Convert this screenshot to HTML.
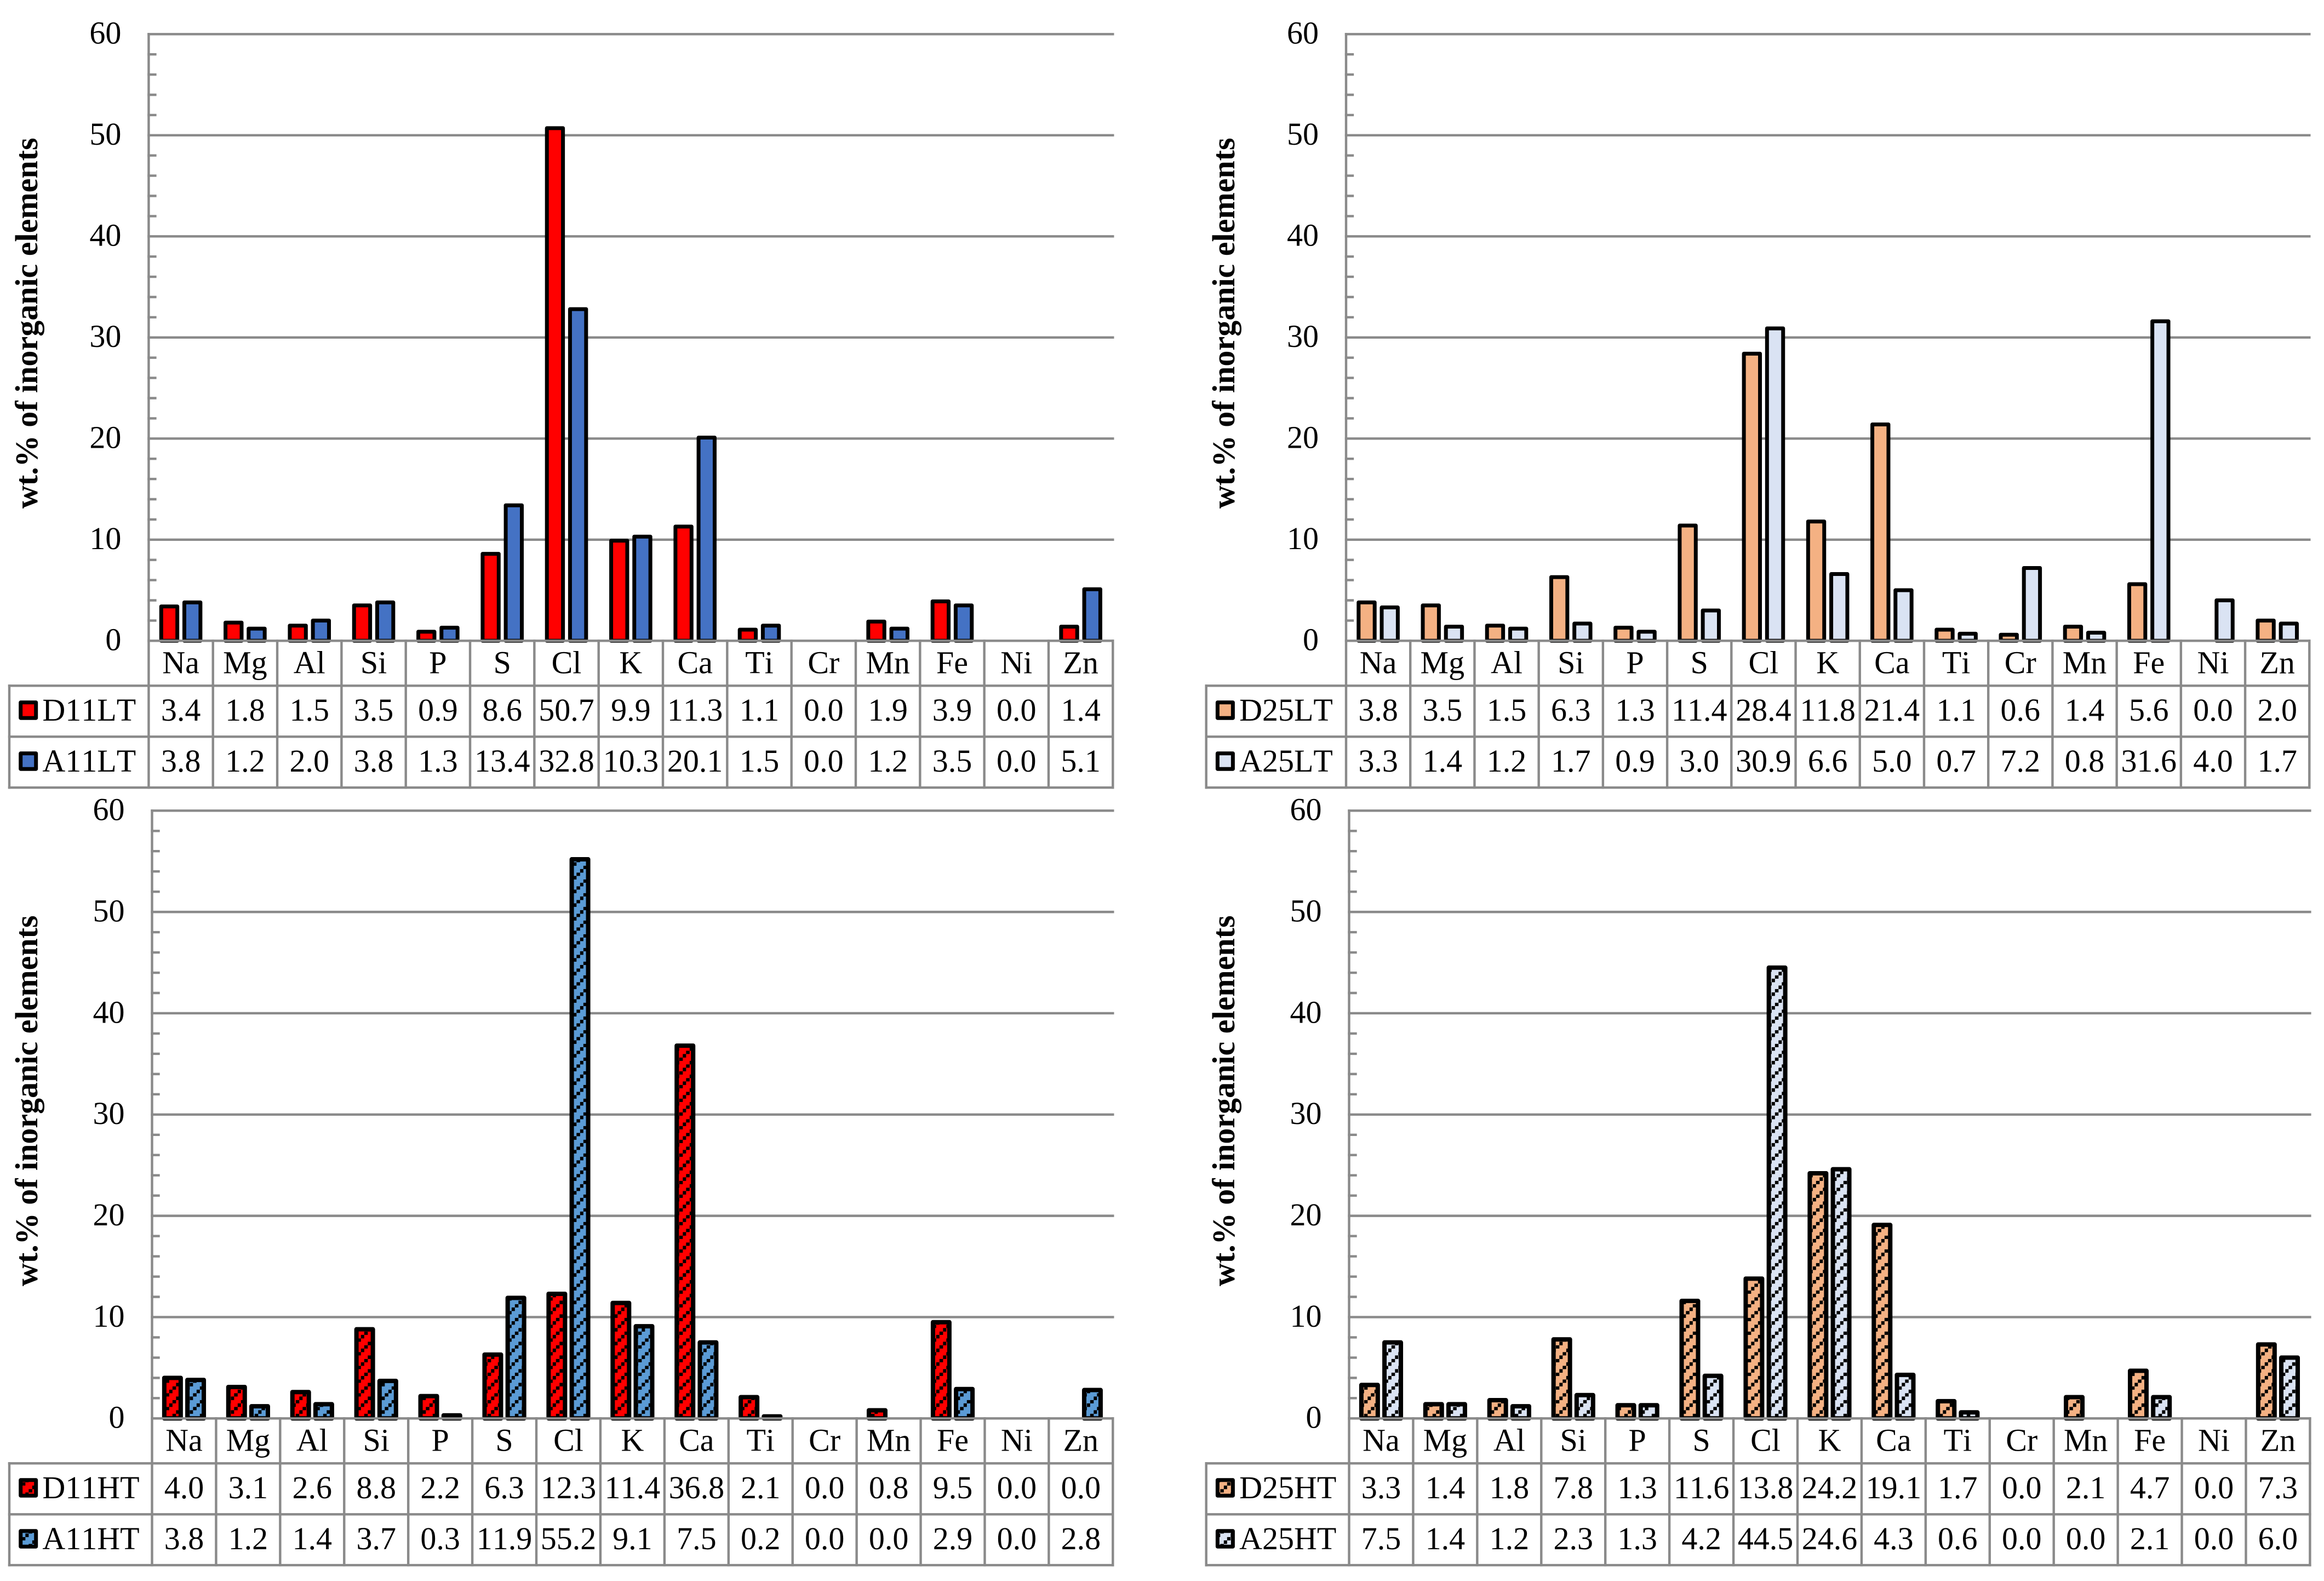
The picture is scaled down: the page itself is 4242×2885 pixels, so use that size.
<!DOCTYPE html>
<html lang="en">
<head>
<meta charset="utf-8">
<title>Inorganic elements wt.% charts</title>
<style>
  html, body { margin: 0; padding: 0; background: #fff; }
  svg { display: block; }
  text { font-family: "Liberation Serif", "Times New Roman", serif; font-size: 58px; fill: #000; font-kerning: none; }
  .title { font-weight: bold; }
  .rule { stroke: #8a8a8a; stroke-width: 4.4; stroke-linecap: square; fill: none; }
  .bar { stroke: #000; stroke-linejoin: round; }
</style>
</head>
<body>
<svg id="figure" xmlns="http://www.w3.org/2000/svg" width="4242" height="2885" viewBox="0 0 4242 2885">
  <defs>
    <pattern id="hatch-red" patternUnits="userSpaceOnUse" width="25" height="25" patternTransform="translate(2.325,-1.625)">
      <rect width="25" height="25" fill="#FF0000"/>
      <g fill="#000" shape-rendering="crispEdges"><rect x="0" y="18.75" width="6.25" height="6.25"/><rect x="6.25" y="12.5" width="6.25" height="6.25"/><rect x="12.5" y="6.25" width="6.25" height="6.25"/><rect x="18.75" y="0" width="6.25" height="6.25"/></g>
    </pattern>
    <pattern id="hatch-blue" patternUnits="userSpaceOnUse" width="25" height="25" patternTransform="translate(2.325,-1.625)">
      <rect width="25" height="25" fill="#5B9BD5"/>
      <g fill="#000" shape-rendering="crispEdges"><rect x="0" y="18.75" width="6.25" height="6.25"/><rect x="6.25" y="12.5" width="6.25" height="6.25"/><rect x="12.5" y="6.25" width="6.25" height="6.25"/><rect x="18.75" y="0" width="6.25" height="6.25"/></g>
    </pattern>
    <pattern id="hatch-orange" patternUnits="userSpaceOnUse" width="25" height="25" patternTransform="translate(2.325,-1.625)">
      <rect width="25" height="25" fill="#F4B183"/>
      <g fill="#000" shape-rendering="crispEdges"><rect x="0" y="18.75" width="6.25" height="6.25"/><rect x="6.25" y="12.5" width="6.25" height="6.25"/><rect x="12.5" y="6.25" width="6.25" height="6.25"/><rect x="18.75" y="0" width="6.25" height="6.25"/></g>
    </pattern>
    <pattern id="hatch-pale" patternUnits="userSpaceOnUse" width="25" height="25" patternTransform="translate(2.325,-1.625)">
      <rect width="25" height="25" fill="#DAE3F3"/>
      <g fill="#000" shape-rendering="crispEdges"><rect x="0" y="18.75" width="6.25" height="6.25"/><rect x="6.25" y="12.5" width="6.25" height="6.25"/><rect x="12.5" y="6.25" width="6.25" height="6.25"/><rect x="18.75" y="0" width="6.25" height="6.25"/></g>
    </pattern>
  </defs>
  <rect width="4242" height="2885" fill="#fff"/>
  <g id="panel-lt11"></g>
  <g id="panel-lt25"></g>
  <g id="panel-ht11"></g>
  <g id="panel-ht25"></g>
</svg>
<script>
const elements = ['Na','Mg','Al','Si','P','S','Cl','K','Ca','Ti','Cr','Mn','Fe','Ni','Zn'];
const yTickValues = [0,10,20,30,40,50,60];
const minorTickValues = [2,4,6,8,12,14,16,18,22,24,26,28,32,34,36,38,42,44,46,48,52,54,56,58];
const yAxisTitle = 'wt.% of inorganic elements';
const yMax = 60;

const d11lt = [3.4,1.8,1.5,3.5,0.9,8.6,50.7,9.9,11.3,1.1,0.0,1.9,3.9,0.0,1.4];
const a11lt = [3.8,1.2,2.0,3.8,1.3,13.4,32.8,10.3,20.1,1.5,0.0,1.2,3.5,0.0,5.1];
const d25lt = [3.8,3.5,1.5,6.3,1.3,11.4,28.4,11.8,21.4,1.1,0.6,1.4,5.6,0.0,2.0];
const a25lt = [3.3,1.4,1.2,1.7,0.9,3.0,30.9,6.6,5.0,0.7,7.2,0.8,31.6,4.0,1.7];
const d11ht = [4.0,3.1,2.6,8.8,2.2,6.3,12.3,11.4,36.8,2.1,0.0,0.8,9.5,0.0,0.0];
const a11ht = [3.8,1.2,1.4,3.7,0.3,11.9,55.2,9.1,7.5,0.2,0.0,0.0,2.9,0.0,2.8];
const d25ht = [3.3,1.4,1.8,7.8,1.3,11.6,13.8,24.2,19.1,1.7,0.0,2.1,4.7,0.0,7.3];
const a25ht = [7.5,1.4,1.2,2.3,1.3,4.2,44.5,24.6,4.3,0.6,0.0,0.0,2.1,0.0,6.0];

const panels = [
  { id:'panel-lt11', x0:271.4, x1:2031.3, left:17, y60:62.3, y0:1169.3, rows:[1251.3,1344.3,1437.2], titleX:68, titleY:928, hatched:false,
    series:[{label:'D11LT', values:d11lt, fill:'#FF0000'}, {label:'A11LT', values:a11lt, fill:'#4472C4'}] },
  { id:'panel-lt25', x0:2457, x1:4215.3, left:2201.7, y60:62.3, y0:1169.3, rows:[1251.3,1344.3,1437.2], titleX:2253, titleY:928, hatched:false,
    series:[{label:'D25LT', values:d25lt, fill:'#F4B183'}, {label:'A25LT', values:a25lt, fill:'#DAE3F3'}] },
  { id:'panel-ht11', x0:277.5, x1:2031.3, left:17, y60:1479.3, y0:2588.3, rows:[2670.3,2763.3,2856.1], titleX:68, titleY:2347, hatched:true,
    series:[{label:'D11HT', values:d11ht, fill:'url(#hatch-red)'}, {label:'A11HT', values:a11ht, fill:'url(#hatch-blue)'}] },
  { id:'panel-ht25', x0:2462.5, x1:4216.4, left:2201.7, y60:1479.3, y0:2588.3, rows:[2670.3,2763.3,2856.1], titleX:2253, titleY:2347, hatched:true,
    series:[{label:'D25HT', values:d25ht, fill:'url(#hatch-orange)'}, {label:'A25HT', values:a25ht, fill:'url(#hatch-pale)'}] }
];

const SVG_NS = 'http://www.w3.org/2000/svg';
function make(tag, attrs, parent, content) {
  const node = document.createElementNS(SVG_NS, tag);
  for (const key in attrs) { node.setAttribute(key, attrs[key]); }
  if (content !== undefined) { node.textContent = content; }
  parent.appendChild(node);
  return node;
}
function yScale(p, v) { return p.y0 - (v / yMax) * (p.y0 - p.y60); }
function bandWidth(p) { return (p.x1 - p.x0) / elements.length; }
function xCenter(p, i) { return p.x0 + bandWidth(p) * (i + 0.5); }

panels.forEach(function (p) {
  const g = document.getElementById(p.id);
  const barW = p.hatched ? 30 : 29.4;
  const barStroke = p.hatched ? 8 : 7;
  const barOffset = 21.1;

  // gridlines and minor ticks behind the bars
  yTickValues.forEach(function (v) {
    if (v === 0) { return; }
    const y = yScale(p, v);
    const grid = make('line', {x1:p.x0, x2:p.x1, y1:y, y2:y, class:'rule'}, g);
    
    
  });
  minorTickValues.forEach(function (v) {
    const y = yScale(p, v);
    const tick = make('line', {x1:p.x0, x2:p.x0 + 12, y1:y, y2:y, class:'rule'}, g);
    
    
  });

  // bars
  p.series.forEach(function (s, si) {
    s.values.forEach(function (v, i) {
      if (v <= 0) { return; }
      const cx = xCenter(p, i) + (si === 0 ? -barOffset : barOffset);
      const top = yScale(p, v);
      const bar = make('rect', {x:cx - barW / 2, y:top, width:barW, height:p.y0 - top, fill:s.fill, 'stroke-width':barStroke, class:'bar'}, g);
      
      
    });
  });

  // y axis, x axis and data table lines
  const yAxis = make('line', {x1:p.x0, x2:p.x0, y1:p.y60, y2:p.rows[2], class:'rule'}, g);
  
  
  const xAxis = make('line', {x1:p.x0, x2:p.x1, y1:p.y0, y2:p.y0, class:'rule'}, g);
  
  
  p.rows.forEach(function (y) {
    const rowLine = make('line', {x1:p.left, x2:p.x1, y1:y, y2:y, class:'rule'}, g);
    
    
  });
  const leftBorder = make('line', {x1:p.left, x2:p.left, y1:p.rows[0], y2:p.rows[2], class:'rule'}, g);
  
  
  elements.forEach(function (el, i) {
    const x = p.x0 + bandWidth(p) * (i + 1);
    const colLine = make('line', {x1:x, x2:x, y1:p.y0, y2:p.rows[2], class:'rule'}, g);
    
    
  });

  // y tick labels
  yTickValues.forEach(function (v) {
    const label = make('text', {x:p.x0 - 50, y:yScale(p, v) + 17.3, 'text-anchor':'end'}, g, String(v));
    
    
  });

  // y axis title
  const title = make('text', {x:p.titleX, y:p.titleY, class:'title', transform:'rotate(-90 ' + p.titleX + ' ' + p.titleY + ')'}, g, yAxisTitle);
  
  

  // category labels
  elements.forEach(function (el, i) {
    const cat = make('text', {x:xCenter(p, i), y:p.y0 + 59.4, 'text-anchor':'middle'}, g, el);
    
    
  });

  // table rows: legend key, series name, printed values
  p.series.forEach(function (s, si) {
    const rowTop = p.rows[si];
    const swatch = make('rect', {x:p.left + 20.7, y:rowTop + 30.5, width:28, height:28.4, fill:s.fill, 'stroke-width':7, class:'bar'}, g);
    
    
    const name = make('text', {x:p.left + 60.4, y:rowTop + 63.7}, g, s.label);
    
    
    s.values.forEach(function (v, i) {
      const cell = make('text', {x:xCenter(p, i), y:rowTop + 63.7, 'text-anchor':'middle'}, g, v.toFixed(1));
      
      
    });
  });
});
</script>
</body>
</html>
